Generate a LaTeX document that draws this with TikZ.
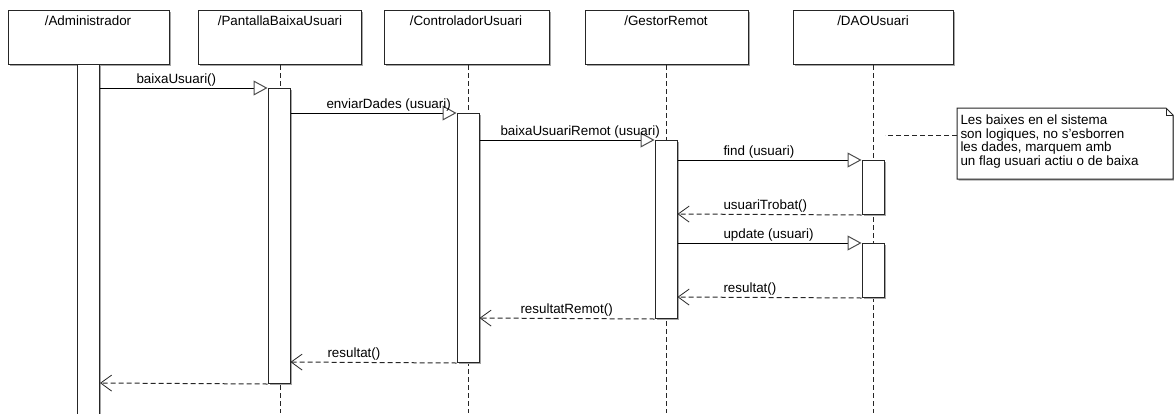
\documentclass[tikz,border=0pt]{standalone}
\usepackage{fontspec}
\setmainfont{Liberation Sans}
\usetikzlibrary{arrows.meta,shadows}
\begin{document}
\begin{tikzpicture}[x=1pt,y=-1pt,line width=1pt,
  font=\fontsize{13.4}{16}\selectfont,
  shade box/.style={draw=black!85,fill=white,
    drop shadow={shadow xshift=1.5pt,shadow yshift=-1.5pt,fill=black!35,opacity=1}},
  headbox/.style={shade box,rectangle,minimum width=#1,minimum height=54pt,anchor=north west,inner sep=0pt},
  headlabel/.style={anchor=base,inner sep=0pt},
  lifeline/.style={draw=black!85,dash pattern=on 5pt off 3pt},
  actbar/.style={shade box,rectangle,minimum width=22pt,anchor=north,inner sep=0pt},
  callmsg/.style={draw=black,-{Triangle[open,length=14pt,width=15pt,color=black!70,fill=white]}},
  retmsg/.style={draw=black!85,dash pattern=on 5pt off 3pt,-{Straight Barb[length=11pt,width=16pt,line width=0.8pt]}},
  msglabel/.style={anchor=base west,inner sep=0pt},
  notetext/.style={anchor=base west,inner sep=0pt}]
\useasboundingbox (0,0) rectangle (1174,413);

% heads of the lifelines
\node[headbox=161pt] (hA) at (8,10) {};
\node[headbox=163pt] (hP) at (198,10) {};
\node[headbox=165pt] (hC) at (384,10) {};
\node[headbox=163pt] (hG) at (585,10) {};
\node[headbox=160pt] (hD) at (793,10) {};
\node[headlabel] (tA) at (88,25) {/Administrador};
\node[headlabel] (tP) at (280,25) {/PantallaBaixaUsuari};
\node[headlabel] (tC) at (466,25) {/ControladorUsuari};
\node[headlabel] (tG) at (666,25) {/GestorRemot};
\node[headlabel] (tD) at (873,25) {/DAOUsuari};

% dashed lifelines
\coordinate (eA) at (88,413);
\coordinate (eP) at (280,413);
\coordinate (eC) at (468,413);
\coordinate (eG) at (666,413);
\coordinate (eD) at (873,413);
\draw[lifeline] (hP.south -| eP) -- (eP);
\draw[lifeline] (hC.south -| eC) -- (eC);
\draw[lifeline] (hG.south -| eG) -- (eG);
\draw[lifeline] (hD.south -| eD) -- (eD);

% activation bars
\node[actbar,minimum height=360pt] (aA) at (88.5,64) {};
\node[actbar,minimum height=295pt] (aP) at (279,88) {};
\node[actbar,minimum height=249pt] (aC) at (468,113) {};
\node[actbar,minimum height=178pt] (aG) at (666,140) {};
\node[actbar,minimum height=54pt] (aD1) at (873,160) {};
\node[actbar,minimum height=54pt] (aD2) at (873,243) {};

% messages
\draw[callmsg] (aA.east |- 0,88) -- (aP.north west);
\node[msglabel] (m1) at (136,83) {baixaUsuari()};
\draw[callmsg] (aP.east |- 0,113) -- (aC.north west);
\node[msglabel] (m2) at (326,108) {enviarDades (usuari)};
\draw[callmsg] (aC.east |- 0,140) -- (aG.north west);
\node[msglabel] (m3) at (500,135) {baixaUsuariRemot (usuari)};
\draw[callmsg] (aG.east |- 0,160) -- (aD1.north west);
\node[msglabel] (m4) at (723,155) {find (usuari)};
\draw[retmsg] (aD1.south west) -- (aG.east |- 0,214);
\node[msglabel] (m5) at (723,209) {usuariTrobat()};
\draw[callmsg] (aG.east |- 0,243) -- (aD2.north west);
\node[msglabel] (m6) at (723,238) {update (usuari)};
\draw[retmsg] (aD2.south west) -- (aG.east |- 0,297);
\node[msglabel] (m7) at (723,292) {resultat()};
\draw[retmsg] (aG.south west) -- (aC.east |- 0,318);
\node[msglabel] (m8) at (520,313) {resultatRemot()};
\draw[retmsg] (aC.south west) -- (aP.east |- 0,362);
\node[msglabel] (m9) at (327,357) {resultat()};
\draw[retmsg] (aP.south west) -- (aA.east |- 0,383);

% note with folded corner
\coordinate (nNW) at (957,108);
\coordinate (nF1) at (1166,108);
\coordinate (nF2) at (1173,115);
\coordinate (nSE) at (1173,179);
\coordinate (nSW) at (957,179);
\filldraw[draw=black!85,fill=white,
  drop shadow={shadow xshift=1.5pt,shadow yshift=-1.5pt,fill=black!35,opacity=1}]
  (nNW) -- (nF1) -- (nF2) -- (nSE) -- (nSW) -- cycle;
\draw[draw=black!85] (nF1) -- (nF1 |- nF2) -- (nF2);
\node[notetext] (n1) at (960,124) {Les baixes en el sistema};
\node[notetext] (n2) at (960,138) {son logiques, no s'esborren};
\node[notetext] (n3) at (960,151.5) {les dades, marquem amb};
\node[notetext] (n4) at (960,165) {un flag usuari actiu o de baixa};
\coordinate (nLink) at (885,135);
\draw[lifeline] (nNW |- nLink) -- (nLink);
\end{tikzpicture}
\end{document}
